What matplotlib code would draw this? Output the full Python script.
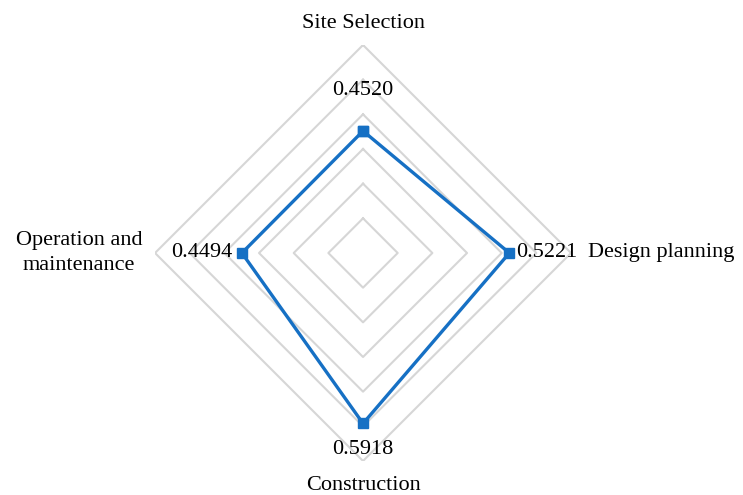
import matplotlib.pyplot as plt
import numpy as np

# Radar chart data
categories = ["Site Selection", "Design planning", "Construction", "Operation and\nmaintenance"]
values = [0.4520, 0.5221, 0.5918, 0.4494]
value_labels = ["0.4520", "0.5221", "0.5918", "0.4494"]
ring_levels = [0.2, 0.3, 0.4, 0.5, 0.6, 0.7]
r_min, r_max = 0.1, 0.7

plt.rcParams["font.family"] = ["Liberation Serif", "DejaVu Serif"]

fig = plt.figure(figsize=(7.43, 4.95), dpi=100)
ax = fig.add_axes([0.2086, 0.0687, 0.560, 0.8404], projection="polar")
ax.set_theta_zero_location("N")
ax.set_theta_direction(-1)
ax.set_rlim(r_min, r_max)

n = len(categories)
angles = np.linspace(0, 2 * np.pi, n, endpoint=False)
closed = np.append(angles, angles[0])

# Straight-sided gridlines (diamonds)
for lvl in ring_levels:
    ax.plot(closed, [lvl] * (n + 1), color="#D6D6D6", lw=1.5, zorder=1)

ax.grid(False)
ax.spines["polar"].set_visible(False)
ax.set_xticks([])
ax.set_yticks([])

# Data series
ax.plot(closed, values + values[:1], color="#1670C4", lw=2.4, marker="s",
        markersize=7.5, zorder=3, clip_on=False)

# Value labels
offsets = [(0, 29, "center", "center"), (5, 0, "left", "center"),
           (0, -19, "center", "center"), (-7, 0, "right", "center")]
for a, v, lab, (dx, dy, ha, va) in zip(angles, values, value_labels, offsets):
    ax.annotate(lab, (a, v), xytext=(dx, dy), textcoords="offset points",
                ha=ha, va=va, fontsize=16, color="black")

# Category labels
cat_pos = [(0.762, "center", "center"), (0.749, "left", "center"),
           (0.77, "center", "center"), (0.737, "right", "center")]
for a, cat, (r, ha, va) in zip(angles, categories, cat_pos):
    ax.text(a, r, cat, ha=ha, va=va, fontsize=16, multialignment="center",
            linespacing=1.45, clip_on=False)

fig.savefig("out.png", dpi=100)
